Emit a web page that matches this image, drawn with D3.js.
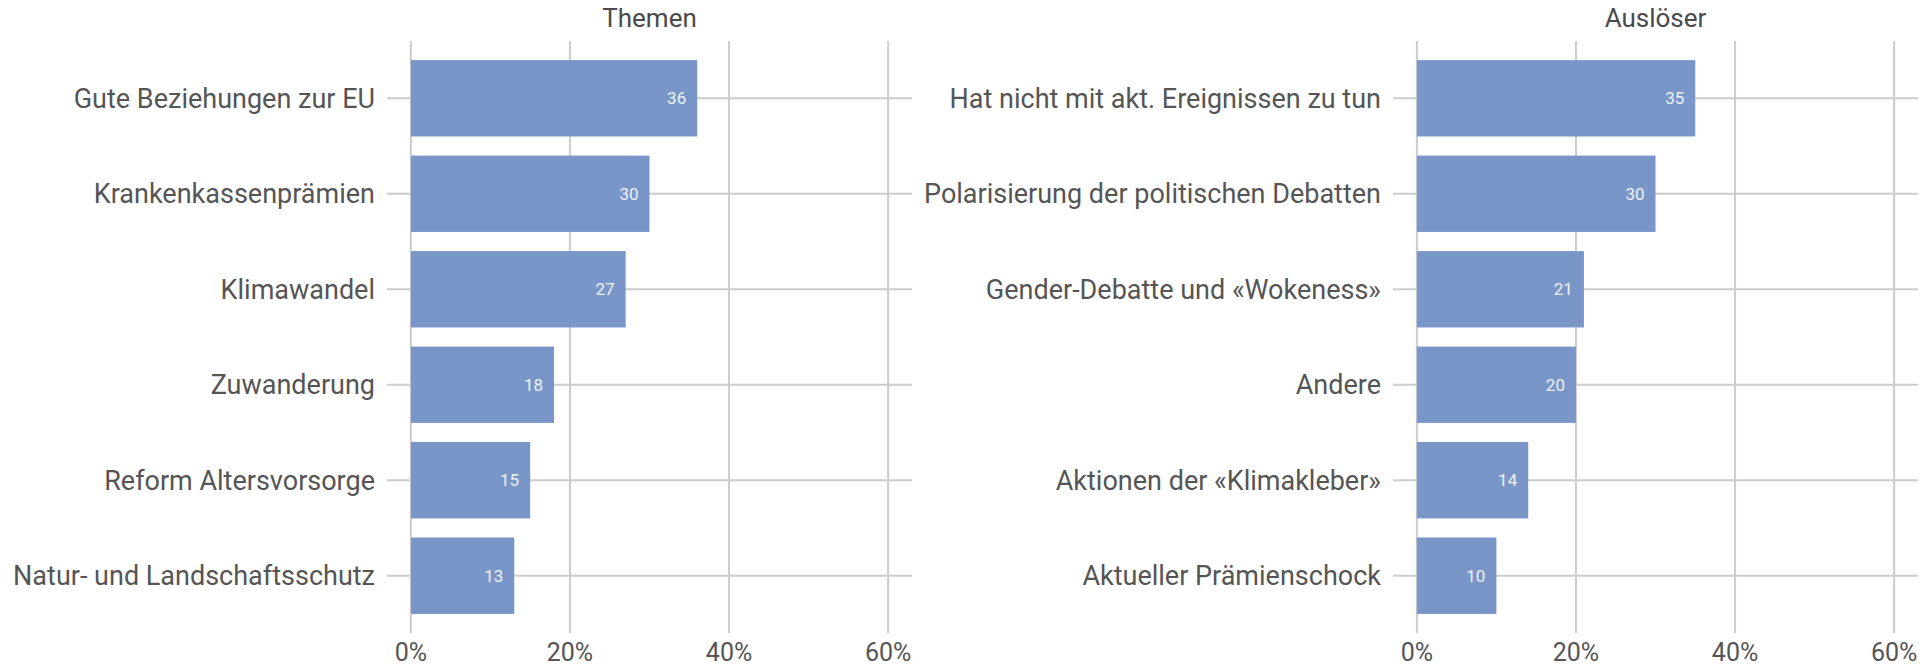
<!DOCTYPE html>
<html>
<head>
<meta charset="utf-8">
<script src="https://cdn.jsdelivr.net/npm/d3@7"></script>
<style>
  body { margin: 0; background: #fff; }
  svg { display: block; font-family: Roboto, "Noto Sans", sans-serif; }
</style>
</head>
<body>
<svg id="chart"></svg>
<script>
// Data
const themenCats = ["Gute Beziehungen zur EU", "Krankenkassenprämien", "Klimawandel", "Zuwanderung", "Reform Altersvorsorge", "Natur- und Landschaftsschutz"];
const themenVals = [36, 30, 27, 18, 15, 13];

const ausloeserCats = ["Hat nicht mit akt. Ereignissen zu tun", "Polarisierung der politischen Debatten", "Gender-Debatte und «Wokeness»", "Andere", "Aktionen der «Klimakleber»", "Aktueller Prämienschock"];
const ausloeserVals = [35, 30, 21, 20, 14, 10];

const ticks = [0, 20, 40, 60];

const W = 1929, H = 668;
const svg = d3.select("#chart").attr("width", W).attr("height", H);

const barColor = "#7a96c8";
const gridColor = "#cccccc";
const textColor = "#555555";

function drawPanel(title, cats, vals, left, right) {
  let x = d3.scaleLinear().domain([-3, 63]).range([left, right]);
  let y = d3.scalePoint().domain(cats).range([41, 633]).padding(0.6);
  let barH = y.step() * 0.8;
  let g = svg.append("g");

  // grid
  g.selectAll(".vgrid").data(ticks).enter().append("line")
      .attr("x1", d => x(d)).attr("x2", d => x(d))
      .attr("y1", 41).attr("y2", 633)
      .attr("stroke", gridColor).attr("stroke-width", 2);
  g.selectAll(".hgrid").data(cats).enter().append("line")
      .attr("x1", left).attr("x2", right)
      .attr("y1", d => y(d)).attr("y2", d => y(d))
      .attr("stroke", gridColor).attr("stroke-width", 2);

  // bars
  g.selectAll(".bar").data(vals).enter().append("rect")
      .attr("x", x(0))
      .attr("y", (d, i) => y(cats[i]) - barH / 2)
      .attr("width", d => x(d) - x(0))
      .attr("height", barH)
      .attr("fill", barColor);

  // value labels
  g.selectAll(".val").data(vals).enter().append("text")
      .attr("x", d => x(d) - 11)
      .attr("y", (d, i) => y(cats[i]) + 6)
      .attr("text-anchor", "end")
      .attr("font-size", 17)
      .attr("fill", "#eef2f9")
      .text(d => d);

  // category labels
  g.selectAll(".cat").data(cats).enter().append("text")
      .attr("x", left - 12)
      .attr("y", d => y(d) + 9.5)
      .attr("text-anchor", "end")
      .attr("font-size", 27)
      .attr("fill", textColor)
      .text(d => d);

  // x tick labels
  g.selectAll(".tick").data(ticks).enter().append("text")
      .attr("x", d => x(d))
      .attr("y", 661)
      .attr("text-anchor", "middle")
      .attr("font-size", 25)
      .attr("fill", textColor)
      .text(d => d + "%");

  // title
  g.append("text")
      .attr("x", (left + right) / 2)
      .attr("y", 27)
      .attr("text-anchor", "middle")
      .attr("font-size", 26)
      .attr("fill", "#4a4a4a")
      .text(title);
}

drawPanel("Themen", themenCats, themenVals, 387, 912);
drawPanel("Auslöser", ausloeserCats, ausloeserVals, 1393, 1918);
</script>
</body>
</html>
